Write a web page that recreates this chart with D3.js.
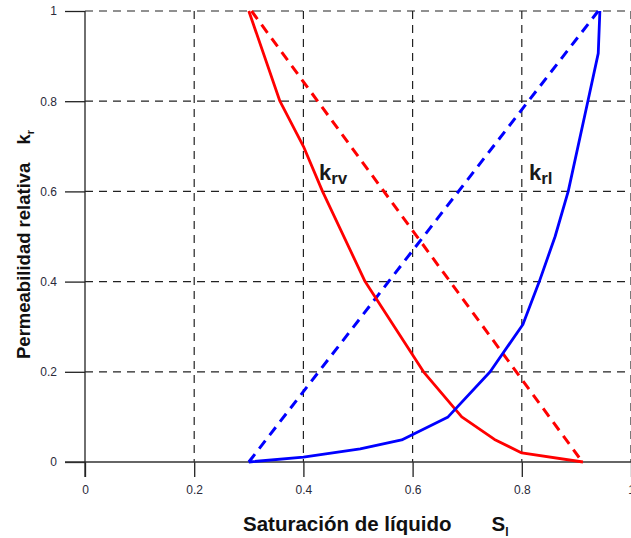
<!DOCTYPE html>
<html><head><meta charset="utf-8">
<script src="https://cdn.jsdelivr.net/npm/d3@7"></script>
<style>body{margin:0;background:#fff}svg{display:block}</style>
</head><body>
<svg id="c" width="631" height="538"></svg>
<script>
const xTicks = [0, 0.2, 0.4, 0.6, 0.8, 1];
const yTicks = [0, 0.2, 0.4, 0.6, 0.8, 1];
const xTickLabels = ["0", "0.2", "0.4", "0.6", "0.8", "1"];
const yTickLabels = ["0", "0.2", "0.4", "0.6", "0.8", "1"];

// k_rv solid (red)
const krvSolid = [[0.30,1.00],[0.357,0.80],[0.40,0.70],[0.435,0.60],[0.513,0.40],[0.62,0.20],[0.69,0.10],[0.75,0.05],[0.80,0.02],[0.912,0.00]];
// k_rv dashed (red, linear)
const krvDashed = [[0.305,1.00],[0.905,0.01]];
// k_rl solid (blue)
const krlSolid = [[0.30,0.00],[0.40,0.011],[0.504,0.029],[0.58,0.049],[0.665,0.10],[0.742,0.20],[0.802,0.305],[0.832,0.40],[0.861,0.50],[0.885,0.60],[0.921,0.80],[0.94,0.906],[0.943,1.00]];
// k_rl dashed (blue, linear)
const krlDashed = [[0.30,0.00],[0.94,1.00]];

const svg = d3.select("#c");
const x = d3.scaleLinear().domain([0,1]).range([85,631]);
const y = d3.scaleLinear().domain([0,1]).range([462,11]);

// grid
const g = svg.append("g");
g.selectAll(".vg").data(xTicks.filter(d=>d>0)).join("line")
  .attr("x1",d=>x(d)).attr("x2",d=>x(d)).attr("y1",y(1)).attr("y2",y(0))
  .attr("stroke","#222").attr("stroke-width",1.2).attr("stroke-dasharray","8,6");
g.selectAll(".hg").data(yTicks.filter(d=>d>0)).join("line")
  .attr("x1",x(0)).attr("x2",631).attr("y1",d=>y(d)).attr("y2",d=>y(d))
  .attr("stroke","#222").attr("stroke-width",1.2).attr("stroke-dasharray","8,6");

// axes
const xa = svg.append("g").attr("transform",`translate(0,${y(0)})`)
  .call(d3.axisBottom(x).tickValues(xTicks).tickFormat((d,i)=>xTickLabels[i]).tickSize(15).tickPadding(8));
const ya = svg.append("g").attr("transform",`translate(${x(0)},0)`)
  .call(d3.axisLeft(y).tickValues(yTicks).tickFormat((d,i)=>yTickLabels[i]).tickSize(20).tickPadding(8));
[xa,ya].forEach(a=>{
  a.select(".domain").remove();
  a.selectAll(".tick line").attr("stroke","#222").attr("stroke-width",1.3);
  a.selectAll(".tick text").attr("fill","#2a2a3a").attr("font-family","Liberation Sans, Arial, sans-serif").attr("font-size",12);
});
svg.append("line").attr("x1",65).attr("x2",631).attr("y1",y(0)).attr("y2",y(0)).attr("stroke","#333").attr("stroke-width",1.3);
svg.append("line").attr("x1",x(0)).attr("x2",x(0)).attr("y1",y(1)).attr("y2",477).attr("stroke","#222").attr("stroke-width",1.3);

// curves
const line = d3.line().x(d=>x(d[0])).y(d=>y(d[1]));
svg.append("path").datum(krvDashed).attr("d",line).attr("fill","none").attr("stroke","#ff0000").attr("stroke-width",3).attr("stroke-dasharray","10,7");
svg.append("path").datum(krlDashed).attr("d",line).attr("fill","none").attr("stroke","#0000ff").attr("stroke-width",3).attr("stroke-dasharray","10,7");
svg.append("path").datum(krvSolid).attr("d",line).attr("fill","none").attr("stroke","#ff0000").attr("stroke-width",2.8).attr("stroke-linejoin","round");
svg.append("path").datum(krlSolid).attr("d",line).attr("fill","none").attr("stroke","#0000ff").attr("stroke-width",2.8).attr("stroke-linejoin","round");

// curve labels
const ff = "Liberation Sans, Arial, sans-serif";
function klabel(px,py,sub){
  const t = svg.append("text").attr("x",px).attr("y",py).attr("font-family",ff).attr("font-weight","bold").attr("fill","#1a1a1a");
  t.append("tspan").attr("font-size",22).text("k");
  t.append("tspan").attr("font-size",17).attr("dy",4).text(sub);
}
klabel(319,180,"rv");
klabel(529,180,"rl");

// axis titles
const xt = svg.append("text").attr("x",243).attr("y",531).attr("font-family",ff).attr("font-weight","bold").attr("font-size",20.5).attr("fill","#111");
xt.append("tspan").text("Saturación de líquido");
xt.append("tspan").attr("dx",40).text("S");
xt.append("tspan").attr("font-size",12).attr("dy",5).text("l");

const yt = svg.append("text").attr("transform","translate(30,359) rotate(-90)").attr("font-family",ff).attr("font-weight","bold").attr("font-size",18.5).attr("fill","#111");
yt.append("tspan").text("Permeabilidad relativa");
yt.append("tspan").attr("dx",18).text("k");
yt.append("tspan").attr("font-size",11).attr("dy",4).text("r");
</script>
</body></html>
